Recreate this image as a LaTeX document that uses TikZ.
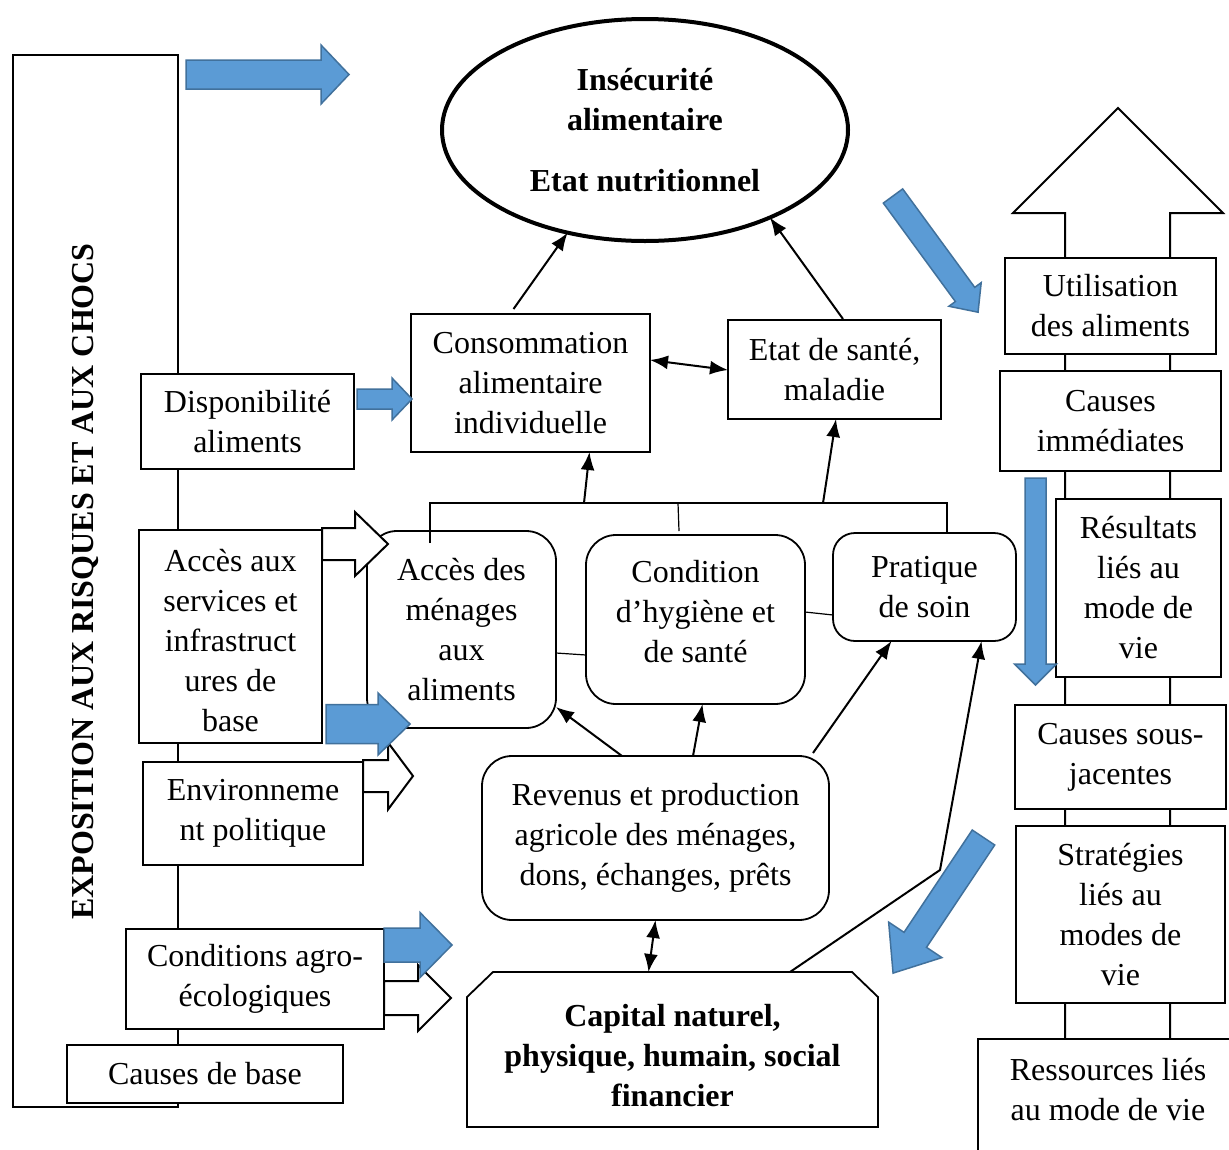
\documentclass[tikz,border=0pt]{standalone}
\usepackage{fontspec}
\setmainfont{Liberation Serif}
\usetikzlibrary{arrows.meta,shapes.geometric,calc}
\definecolor{arrowblue}{HTML}{5B9BD5}
\definecolor{arrowedge}{HTML}{41719C}
\newcommand{\blockarr}[8]{%
\begin{scope}[shift={(#2,#3)},rotate=#4]
\path[#1] (0,-#6) -- ({#5-#8},-#6) -- ({#5-#8},-#7) -- (#5,0) -- ({#5-#8},#7) -- ({#5-#8},#6) -- (0,#6) -- cycle;
\end{scope}}
\tikzset{
 box/.style={draw, line width=1.8pt, fill=white, align=center, inner sep=0pt, outer sep=0pt, font=\fontsize{32}{40}\selectfont},
 rbox/.style={box, rounded corners=30pt},
 conn/.style={line width=2pt, -{Latex[length=18pt,width=14pt]}},
 dconn/.style={line width=2pt, {Latex[length=18pt,width=14pt]}-{Latex[length=18pt,width=14pt]}},
 thinline/.style={line width=1.2pt},
 plainline/.style={line width=2pt},
 txt/.style={align=center, inner sep=0pt, font=\fontsize{32}{40}\selectfont},
 bluearr/.style={fill=arrowblue, draw=arrowedge, line width=1.5pt, line join=miter},
 hollowarr/.style={fill=white, draw=black, line width=2pt, line join=miter},
}
\begin{document}
\begin{tikzpicture}[x=1pt,y=-1pt]
\useasboundingbox (0,0) rectangle (1229,1149);
\clip (0,0) rectangle (1229,1149);
\fill[white] (0,0) rectangle (1229,1149);

% left frame
\node[draw, line width=1.8pt, minimum width=165pt, minimum height=1052pt, inner sep=0pt, outer sep=0pt] (frame) at (95.5,581) {};
\node[rotate=90, inner sep=0pt, font=\bfseries\fontsize{32}{40}\selectfont] (expo) at (85,581.5) {EXPOSITION AUX RISQUES ET AUX CHOCS};

% right column up arrow and rails
\draw[plainline, line join=miter] (1065,1039) -- (1065,213) -- (1013,213) -- (1118,108) -- (1223,213) -- (1170,213) -- (1170,1039);

% ellipse
\node[ellipse, draw, line width=4pt, minimum width=406pt, minimum height=222pt, inner sep=0pt, outer sep=0pt, align=center, font=\bfseries\fontsize{32}{40}\selectfont] (ell) at (645,130) {Insécurité\\alimentaire\\[21pt]Etat nutritionnel};

% boxes
\node[box, minimum width=239pt, minimum height=138pt] (cons) at (530.5,383) {Consommation\\alimentaire\\individuelle};
\node[box, minimum width=213pt, minimum height=99pt] (sante) at (834.5,369.5) {Etat de santé,\\maladie};
\node[box, minimum width=213pt, minimum height=95pt] (dispo) at (247.5,421.5) {Disponibilité\\aliments};
\node[box, minimum width=183pt, minimum height=213pt] (acs) at (230.5,636.5) {};
\node[txt] (acstxt) at (230.5,640.5) {Accès aux\\services et\\infrastruct\\ures de\\base};
\node[box, minimum width=220pt, minimum height=103pt] (env) at (253,813.5) {Environneme\\nt politique};
\node[box, minimum width=258pt, minimum height=100pt] (agro) at (255,979) {Conditions agro-\\écologiques};
\node[box, minimum width=276pt, minimum height=58pt] (cbase) at (205,1074) {Causes de base};

\node[rbox, minimum width=189pt, minimum height=197pt] (acm) at (461.5,629.5) {Accès des\\ménages\\aux\\aliments};
\node[rbox, minimum width=219pt, minimum height=169pt] (hyg) at (695.5,619.5) {};
\node[txt] (hygtxt) at (695.5,612) {Condition\\d’hygiène et\\de santé};
\node[box, rounded corners=22pt, minimum width=183pt, minimum height=108pt] (soin) at (924.5,587) {Pratique\\de soin};
\node[rbox, minimum width=347pt, minimum height=164pt] (rev) at (655.5,838) {Revenus et production\\agricole des ménages,\\dons, échanges, prêts};

\node[box, draw=none, fill=none, minimum width=411pt, minimum height=155pt] (cap) at (672.5,1049.5) {};
\draw[line width=1.8pt, fill=white, line join=miter] (cap.south west) -- ($(cap.north west)+(0,25)$) -- ($(cap.north west)+(26,0)$) -- ($(cap.north east)+(-26,0)$) -- ($(cap.north east)+(0,25)$) -- (cap.south east) -- cycle;
\node[txt, font=\bfseries\fontsize{32}{40}\selectfont] (captxt) at (672.5,1056) {Capital naturel,\\physique, humain, social\\financier};

% right boxes
\node[box, minimum width=211pt, minimum height=96pt] (util) at (1110.5,306) {Utilisation\\des aliments};
\node[box, minimum width=221pt, minimum height=100pt] (cimm) at (1110.5,421) {Causes\\immédiates};
\node[box, minimum width=165pt, minimum height=178pt] (resu) at (1138.5,588) {Résultats\\liés au\\mode de\\vie};
\node[box, minimum width=211pt, minimum height=104pt] (csj) at (1120.5,757) {Causes sous-\\jacentes};
\node[box, minimum width=209pt, minimum height=177pt] (strat) at (1120.5,914.5) {Stratégies\\liés au\\modes de\\vie};
\node[box, minimum width=280pt, minimum height=140pt] (resbox) at (1118,1109) {};
\node[txt] (res) at (1108,1089.5) {Ressources liés\\au mode de vie};

% bracket
\coordinate (brl) at (430,503);
\coordinate (brm) at (678,503);
\coordinate (brr) at (947,503);
\coordinate (b1) at (584,503);
\coordinate (b2) at (823,503);
\draw[thinline] (430,543) -- (brl) -- (brr) -- (947,532);
\draw[thinline] (brm) -- (679,531);

% connectors
\draw[conn] ([xshift=-17pt,yshift=5pt]cons.north) -- (ell.233.7);
\draw[conn] ([xshift=8.5pt,yshift=1pt]sante.north) -- (ell.325);
\draw[dconn] ([yshift=23pt]cons.east) -- ([yshift=-0.5pt]sante.west);
\draw[conn] (b1) -- ([xshift=59pt]cons.south);
\draw[conn] (b2) -- ([xshift=1.5pt]sante.south);
\draw[conn] ([xshift=-33.5pt]rev.north) -- ([yshift=21pt]acm.south east);
\draw[conn] ([xshift=37.5pt]rev.north) -- ([xshift=7pt]hyg.south);
\draw[conn] ([xshift=-16pt,yshift=3pt]rev.north east) -- ([xshift=-33pt]soin.south);
\draw[dconn] (rev.south) -- ([xshift=-24pt]cap.north);
\coordinate (bend) at (940,870);
\draw[conn] ([xshift=117.5pt]cap.north) -- (bend) -- ([xshift=57pt]soin.south);
\draw[thinline] ([yshift=-23.5pt]acm.east) -- ([yshift=-35.5pt]hyg.west);
\draw[thinline] ([yshift=7.5pt]hyg.east) -- ([yshift=-28pt]soin.west);

% block arrows
\blockarr{bluearr}{186}{74.5}{0}{163}{14.5}{29.5}{28}
\blockarr{bluearr}{357}{399}{0}{55}{10}{21}{20}
\blockarr{hollowarr}{322}{544}{0}{66}{16}{32}{33}
\blockarr{hollowarr}{363}{776}{0}{50}{16}{33.5}{25}
\blockarr{bluearr}{326}{724}{0}{84}{19.5}{31}{32}
\blockarr{hollowarr}{384}{998}{0}{67}{17}{33}{33}
\blockarr{bluearr}{384}{945}{0}{68}{17}{32.5}{32}
\blockarr{bluearr}{1035.5}{478}{-90}{207}{10.5}{21}{21}
\blockarr{bluearr}{893}{196}{-53.8}{144}{12}{20}{22}
\blockarr{bluearr}{983.5}{837.5}{-123.7}{163}{13.5}{32}{40}
\end{tikzpicture}
\end{document}
